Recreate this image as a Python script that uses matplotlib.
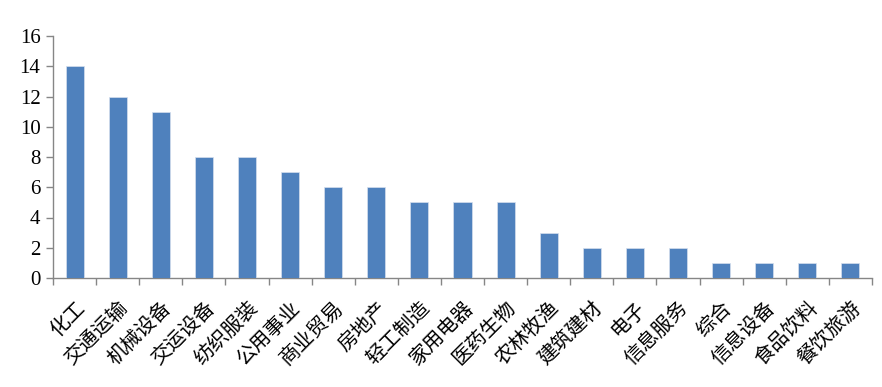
import matplotlib
matplotlib.use("Agg")
import matplotlib.pyplot as plt
import numpy as np

categories = ["化工", "交通运输", "机械设备", "交运设备", "纺织服装", "公用事业", "商业贸易",
              "房地产", "轻工制造", "家用电器", "医药生物", "农林牧渔", "建筑建材", "电子",
              "信息服务", "综合", "信息设备", "食品饮料", "餐饮旅游"]
values = [14, 12, 11, 8, 8, 7, 6, 6, 5, 5, 5, 3, 2, 2, 2, 1, 1, 1, 1]
yticks = [0, 2, 4, 6, 8, 10, 12, 14, 16]

fig = plt.figure(figsize=(8.82, 3.87), dpi=100)
ax = fig.add_axes([53/882, 1-278/387, (872-53)/882, (278-36)/387])

x = np.arange(len(categories))
ax.bar(x, values, width=0.42, color="#4F81BD", edgecolor="#D6E0EE", linewidth=0.5, zorder=3)

ax.set_xlim(-0.5, len(categories)-0.5)
ax.set_ylim(0, 16)
ax.set_yticks(yticks)
ax.set_yticklabels([str(t) for t in yticks], fontfamily="Liberation Serif", fontsize=15)

ax.set_xticks(x)
ax.set_xticklabels(categories, rotation=45, ha="right", rotation_mode="anchor",
                   fontfamily=["Noto Sans CJK SC", "DejaVu Sans"], fontsize=14.5)
ax.set_xticks(np.arange(-0.5, len(categories)), minor=True)
ax.tick_params(axis="x", which="major", length=0, pad=14)
ax.tick_params(axis="x", which="minor", length=5, color="#868686", width=1, direction="out")
ax.tick_params(axis="y", length=5, color="#868686", width=1, direction="out", pad=4)

for s in ["top", "right"]:
    ax.spines[s].set_visible(False)
for s in ["left", "bottom"]:
    ax.spines[s].set_color("#868686")
    ax.spines[s].set_linewidth(1)

fig.savefig("out.png", dpi=100)
